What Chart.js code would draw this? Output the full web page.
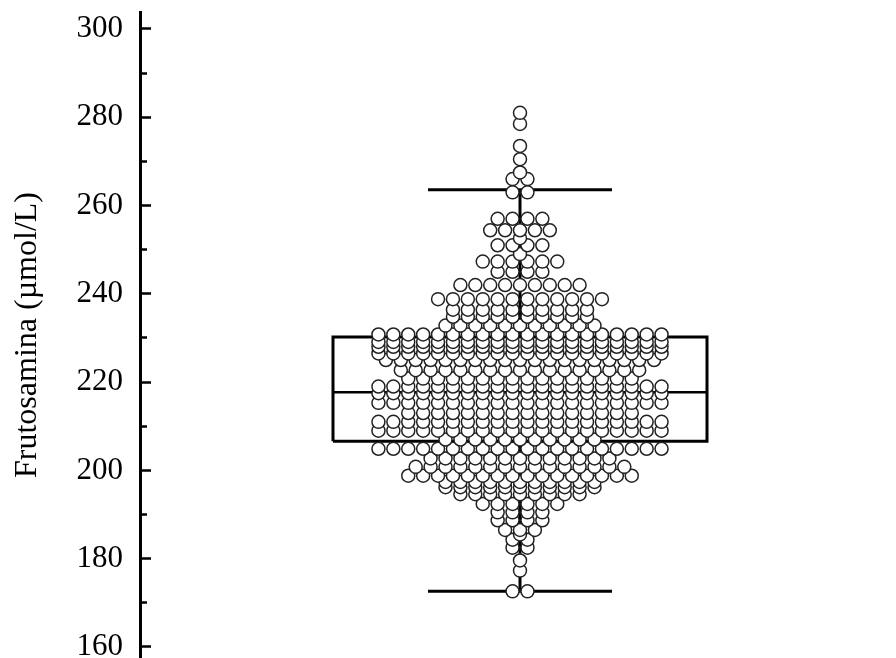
<!DOCTYPE html>
<html>
<head>
<meta charset="utf-8">
<script src="https://cdn.jsdelivr.net/npm/chart.js@4.4.1/dist/chart.umd.min.js"></script>
<style>
html,body{margin:0;padding:0;background:#fff;}
canvas{display:block;}
</style>
</head>
<body>
<canvas id="c" width="896" height="658"></canvas>
<script>
// ---- data ----
const rowValues = [281, 278.5, 273.5, 270.5, 267.5, 266, 263, 257, 254.4, 252.6, 251, 249, 247.3, 245, 242,
  238.8, 236.4, 234.8, 232.8, 230.8, 229.1, 228, 226.5, 225, 222.7, 220.8, 219, 217.5, 215.3, 213, 211, 209, 207,
  204.9, 202.7, 200.8, 198.8, 197.4, 196.2, 194.6, 192.4, 190.5, 188.7, 186.5, 185.5, 184.3, 182.5, 179.6, 177.3, 172.6];
const rowCounts = [1, 1, 1, 1, 1, 2, 2, 4, 5, 1, 4, 1, 6, 4, 9,
  12, 10, 10, 11, 20, 20, 20, 20, 19, 17, 16, 20, 20, 20, 16, 20, 20, 11,
  20, 13, 15, 16, 11, 11, 9, 6, 4, 4, 3, 1, 2, 2, 1, 1, 2];
const q1 = 206.6;
const median = 217.7;
const q3 = 230.2;
const whiskerLow = 172.6;
const whiskerHigh = 263.6;
const majorTicks = [160, 180, 200, 220, 240, 260, 280, 300];
const minorTicks = [170, 190, 210, 230, 250, 270, 290];
const yTitle = 'Frutosamina (µmol/L)';

// ---- view / layout settings ----
const X_MIN = -380, X_MAX = 376;
const Y_MIN = 157.5, Y_MAX = 303.85;
const SPACING = 14.9;      // horizontal distance between dots in a row
const BOX_HALF = 187;      // half width of the box
const CAP_HALF = 92;       // half width of whisker caps
const SERIF = '"Liberation Serif", "Times New Roman", serif';

// build swarm points: each row is centred, dots side by side
const order = rowValues.map((v, i) => i).sort((a, b) => rowValues[a] - rowValues[b]);
const dots = [];
for (const i of order) {
  const n = rowCounts[i];
  for (let k = 0; k < n; k++) {
    dots.push({ x: (k - (n - 1) / 2) * SPACING, y: rowValues[i] });
  }
}

function seg(points, width) {
  return {
    type: 'scatter', data: points, showLine: true, borderColor: '#000', borderWidth: width,
    pointRadius: 0, pointHoverRadius: 0, fill: false, tension: 0,
    borderJoinStyle: 'miter', borderCapStyle: 'butt', order: 2
  };
}

const datasets = [
  {
    type: 'scatter', data: dots, order: 0,
    pointStyle: 'circle', pointRadius: 6.5, pointHoverRadius: 6.5,
    backgroundColor: '#fff', borderColor: '#222', borderWidth: 1.5
  },
  seg([{x: -BOX_HALF, y: q1}, {x: BOX_HALF, y: q1}, {x: BOX_HALF, y: q3}, {x: -BOX_HALF, y: q3}, {x: -BOX_HALF, y: q1}], 3),
  seg([{x: -BOX_HALF, y: median}, {x: BOX_HALF, y: median}], 2.5),
  seg([{x: 0, y: q3}, {x: 0, y: whiskerHigh}], 3),
  seg([{x: 0, y: q1}, {x: 0, y: whiskerLow}], 3),
  seg([{x: -CAP_HALF, y: whiskerHigh}, {x: CAP_HALF, y: whiskerHigh}], 3),
  seg([{x: -CAP_HALF, y: whiskerLow}, {x: CAP_HALF, y: whiskerLow}], 3)
];

new Chart(document.getElementById('c'), {
  type: 'scatter',
  data: { datasets },
  options: {
    responsive: false,
    animation: false,
    devicePixelRatio: 1,
    layout: { autoPadding: false, padding: { top: 12, right: 0, bottom: 0, left: 0 } },
    plugins: { legend: { display: false }, tooltip: { enabled: false } },
    events: [],
    scales: {
      x: { type: 'linear', min: X_MIN, max: X_MAX, display: false },
      y: {
        type: 'linear', position: 'left', min: Y_MIN, max: Y_MAX, weight: 10,
        afterBuildTicks: s => { s.ticks = majorTicks.map(v => ({ value: v })); },
        afterFit: s => { s.width = 140; s.paddingTop = 0; s.paddingBottom = 0; },
        border: { display: true, color: '#000', width: 3 },
        grid: { drawOnChartArea: false, drawTicks: true, tickLength: -11, tickWidth: 2.5, tickColor: '#000' },
        ticks: { color: '#000', autoSkip: false, padding: 28, font: { family: SERIF, size: 31 }, callback: v => String(v) },
        title: { display: true, text: yTitle, color: '#000', font: { family: SERIF, size: 32, lineHeight: 1 }, padding: { top: 12, bottom: 0 } }
      },
      y2: {
        type: 'linear', position: 'left', min: Y_MIN, max: Y_MAX, weight: 0,
        afterBuildTicks: s => { s.ticks = minorTicks.map(v => ({ value: v })); },
        afterFit: s => { s.width = 0; s.paddingTop = 0; s.paddingBottom = 0; },
        border: { display: false },
        grid: { drawOnChartArea: false, drawTicks: true, tickLength: -7, tickWidth: 2.5, tickColor: '#000' },
        ticks: { autoSkip: false, padding: 0, callback: () => '' }
      }
    }
  }
});
</script>
</body>
</html>
